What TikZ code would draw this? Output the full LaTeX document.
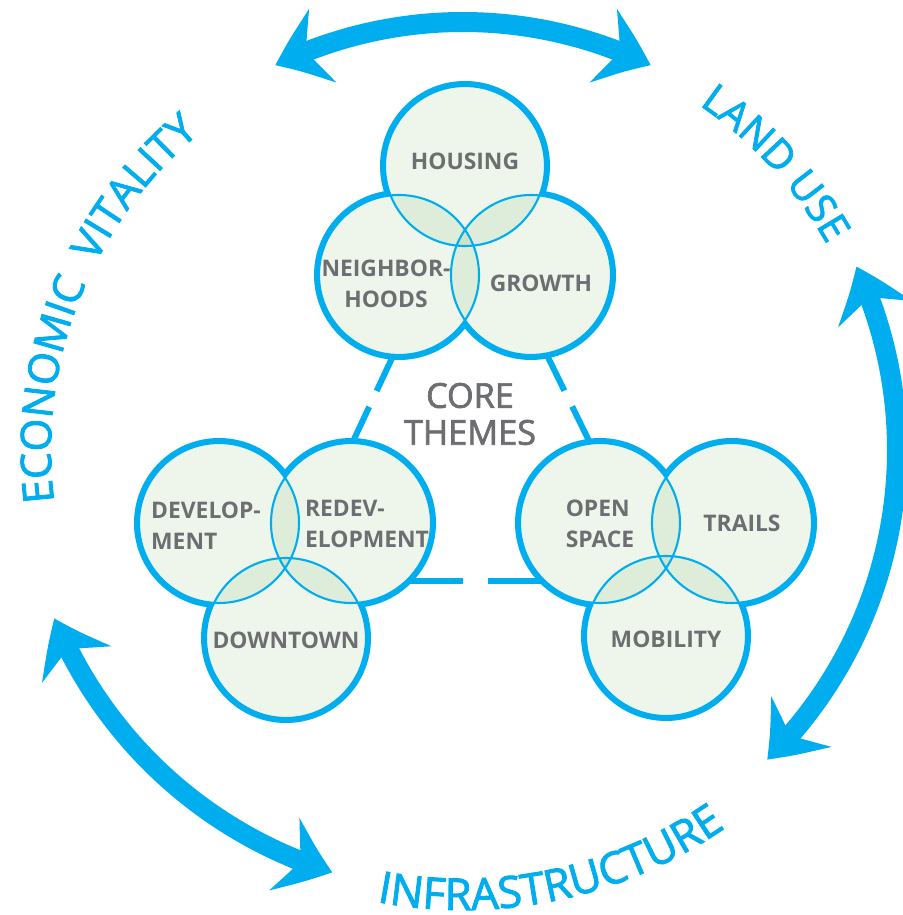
\documentclass[tikz,border=0pt]{standalone}
\usepackage{fontspec}
\setmainfont{Open Sans}
\newfontfamily\pillarfont[FakeBold=2]{Open Sans}
\usetikzlibrary{arrows.meta,bending,calc,backgrounds,decorations.text}

\definecolor{coreblue}{HTML}{00AEEF}
\definecolor{labelgray}{HTML}{6D6E71}
\definecolor{themefill}{HTML}{EEF6EC}
\definecolor{lapfill}{HTML}{C8DFC0}

\begin{document}
\begin{tikzpicture}[
    x=0.02cm, y=0.02cm,
    theme/.style={circle, minimum size=3.2cm, inner sep=0pt},
    tag/.style={font=\bfseries\fontsize{13}{17.5}\selectfont, text=labelgray, align=center, inner sep=0pt},
    rim/.style={draw=coreblue, line width=0.2cm},
    seam/.style={draw=coreblue, line width=1.2pt},
    link/.style={draw=coreblue, line width=0.12cm},
    ring/.style={draw=coreblue, line width=0.4cm, {Stealth[length=29pt, width=44pt, inset=10pt, bend]}-{Stealth[length=29pt, width=44pt, inset=10pt, bend]}},
    pillar/.style={decorate, decoration={text along path, text align=center, text color=coreblue, #1}}
]
\useasboundingbox (-463,-465) rectangle (439,450);

% theme circles
\node[theme] (housing) at (2,284) {};
\node[theme] (nbh) at (-64,175) {};
\node[theme] (growth) at (68,175) {};
\node[theme] (dev) at (-244,-73) {};
\node[theme] (redev) at (-112,-73) {};
\node[theme] (down) at (-177,-188) {};
\node[theme] (open) at (137,-73) {};
\node[theme] (trails) at (269,-73) {};
\node[theme] (mob) at (203,-186) {};

\node[tag] (housing-t) at ($(housing)+(0,5)$) {HOUSING};
\node[tag] (nbh-t) at ($(nbh)+(-13,-9)$) {NEIGHBOR-\\HOODS};
\node[tag] (growth-t) at ($(growth)+(10,-8)$) {GROWTH};
\node[tag, align=left] (dev-t) at ($(dev)+(-13,-3)$) {DEVELOP-\\MENT};
\node[tag, align=left] (redev-t) at ($(redev)+(16,-1)$) {REDEV-\\ELOPMENT};
\node[tag] (down-t) at ($(down)+(0,-2)$) {DOWNTOWN};
\node[tag, align=left] (open-t) at ($(open)+(0,-1)$) {OPEN\\SPACE};
\node[tag] (trails-t) at ($(trails)+(10,0)$) {TRAILS};
\node[tag] (mob-t) at ($(mob)+(0,-3)$) {MOBILITY};

\node[font=\pillarfont\fontsize{19.5}{21}\selectfont, text=labelgray, align=center] (core) at (7,36) {CORE\\THEMES};

\begin{scope}[on background layer]
  \foreach \a/\b/\g in {nbh.-94/redev.89/5pt, growth.-79/open.97/5pt, redev.-46/open.-134/7pt} {
    \draw[link, shorten >=\g] (\a) -- ($(\a)!.5!(\b)$);
    \draw[link, shorten >=\g] (\b) -- ($(\a)!.5!(\b)$);
  }
  \foreach \n in {housing,nbh,growth,dev,redev,down,open,trails,mob}
    \path[rim] (\n.center) circle[radius=80];
  \foreach \n in {housing,nbh,growth,dev,redev,down,open,trails,mob}
    \fill[themefill] (\n.center) circle[radius=80];
  \foreach \a/\b in {housing/nbh,housing/growth,nbh/growth,dev/redev,dev/down,redev/down,open/trails,open/mob,trails/mob} {
    \begin{scope}
      \clip (\a.center) circle[radius=80];
      \fill[lapfill, fill opacity=0.4] (\b.center) circle[radius=80];
    \end{scope}
  }
  \foreach \n in {housing,nbh,growth,dev,redev,down,open,trails,mob}
    \path[seam] (\n.center) circle[radius=80];
\end{scope}

% outer cycle
\coordinate (top-a) at (116:428);
\coordinate (right-a) at (25:434);
\coordinate (left-a) at (202.4:442);
\draw[ring] (top-a) arc[start angle=116, end angle=64, radius=428];
\draw[ring] (right-a) arc[start angle=25, end angle=-45.5, radius=434];
\draw[ring] (left-a) arc[start angle=202.4, end angle=252.8, radius=442];

\coordinate (econ-a) at (200:412);
\coordinate (land-a) at (60:418);
\coordinate (infra-a) at (250:460);
\path[pillar={text={|\pillarfont\fontsize{24}{24}\selectfont|ECONOMIC{ } VITALITY}}] (econ-a) arc[start angle=200, end angle=117, radius=412];
\path[pillar={text={|\pillarfont\fontsize{23}{23}\selectfont|LAND USE}}] (land-a) arc[start angle=60, end angle=25, radius=418];
\path[pillar={text={|\pillarfont\fontsize{25}{25}\selectfont|INFRASTRUCTURE}}] (infra-a) arc[start angle=250, end angle=314, radius=460];

\end{tikzpicture}
\end{document}
